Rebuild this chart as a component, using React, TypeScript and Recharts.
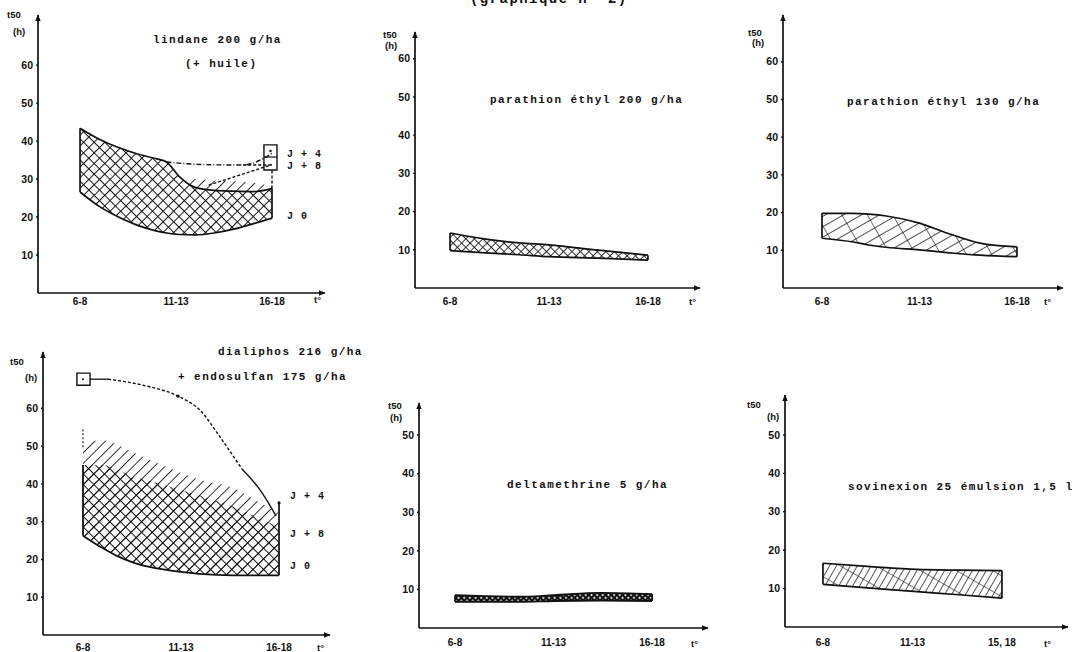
import React from 'react';
import {
  ComposedChart, Area, Line, XAxis, YAxis,
  ReferenceArea, ReferenceDot, ReferenceLine,
} from 'recharts';

// temperature classes (x) and t50 hours (y)
const tempTicks = [7, 12, 17];
const tempLabels = ['6-8', '11-13', '16-18'];
const tempLabelsSov = ['6-8', '11-13', '15, 18'];
const hourTicks60 = [10, 20, 30, 40, 50, 60];
const hourTicks50 = [10, 20, 30, 40, 50];

// lindane 200 g/ha (+ huile)
const lindaneJ0 = [
  { t: 7, v: [26.6, 43.4] }, { t: 8, v: [22.8, 40.5] }, { t: 9, v: [20, 38.3] },
  { t: 10, v: [17.8, 36.6] }, { t: 11, v: [16.3, 35.3] }, { t: 11.5, v: [15.8, 34.5] },
  { t: 12.2, v: [15.4, 30.5] }, { t: 13, v: [15.3, 27.8] }, { t: 14, v: [15.8, 27] },
  { t: 15, v: [16.8, 26.8] }, { t: 16, v: [18.2, 26.7] }, { t: 17, v: [19.7, 27.5] },
];
const lindaneJ8Band = [
  { t: 12.4, v: [29.2, 29.6] }, { t: 13, v: [27.8, 30] }, { t: 14, v: [27, 29.6] },
  { t: 15, v: [26.8, 29.4] }, { t: 16, v: [26.7, 29] }, { t: 17, v: [27.5, 28.2] },
];
const lindaneJ4 = [{ t: 11.5, h: 34.5 }, { t: 13.5, h: 33.8 }, { t: 15.5, h: 33.7 }, { t: 17, h: 36.8 }];
const lindaneJ8 = [{ t: 13.7, h: 28.4 }, { t: 17, h: 33.8 }];
const lindaneLink = [{ t: 15.5, h: 33.7 }, { t: 17, h: 33.7 }];
const lindaneDrop = [{ t: 17, h: 27.5 }, { t: 17, h: 32.4 }];

// parathion éthyl 200 g/ha
const parathion200 = [
  { t: 7, v: [9.8, 14.4] }, { t: 8.8, v: [9.2, 12.8] }, { t: 10.5, v: [8.7, 11.8] },
  { t: 12, v: [8.2, 11.3] }, { t: 14.5, v: [7.8, 9.9] }, { t: 17, v: [7.3, 8.6] },
];

// parathion éthyl 130 g/ha
const parathion130 = [
  { t: 7, v: [13.2, 19.8] }, { t: 8.6, v: [12.2, 19.8] }, { t: 9.4, v: [11.4, 19.6] },
  { t: 10.3, v: [10.8, 19.1] }, { t: 12, v: [10.1, 17.2] }, { t: 13.4, v: [9.4, 14.6] },
  { t: 15.1, v: [8.7, 11.9] }, { t: 17, v: [8.3, 10.9] },
];

// dialiphos 216 g/ha + endosulfan 175 g/ha
const dialiphosJ0 = [
  { t: 7, v: [26.3, 45] }, { t: 8, v: [23, 45] }, { t: 8.7, v: [21, 44] },
  { t: 9.5, v: [19.3, 42] }, { t: 10.4, v: [18, 40.8] }, { t: 12, v: [16.7, 38.4] },
  { t: 13.8, v: [15.9, 35.5] }, { t: 14.65, v: [15.8, 34] }, { t: 15.5, v: [15.8, 32] },
  { t: 17, v: [15.8, 28.6] },
];
const dialiphosJ4Band = [
  { t: 7, v: [26.3, 49.7] }, { t: 7.9, v: [23.5, 51.6] }, { t: 9.55, v: [19.2, 48.4] },
  { t: 11.3, v: [17.2, 44.4] }, { t: 13, v: [16.2, 41] }, { t: 14.65, v: [15.8, 39] },
  { t: 16.4, v: [15.8, 33.9] }, { t: 17, v: [15.8, 32.3] },
];
const dialiphosStart = [{ t: 7.36, h: 67.7 }, { t: 8.28, h: 67.7 }];
const dialiphosDashed = [
  { t: 8.28, h: 67.7 }, { t: 10.06, h: 66.1 }, { t: 11.85, h: 63.2 },
  { t: 12.97, h: 59.5 }, { t: 13.99, h: 52.4 }, { t: 15.1, h: 44 },
];
const dialiphosEnd = [{ t: 15.1, h: 44 }, { t: 16.03, h: 38.4 }, { t: 16.85, h: 31.5 }];
const dialiphosEdge = [{ t: 17, h: 15.8 }, { t: 17, h: 35 }];
const dialiphosTip = [{ t: 7, h: 49.7 }, { t: 7, h: 55 }];

// deltamethrine 5 g/ha
const deltamethrine = [
  { t: 7, v: [6.8, 8.5] }, { t: 10.3, v: [6.8, 8.1] }, { t: 12, v: [7, 8.5] },
  { t: 14.4, v: [7.1, 9.1] }, { t: 17, v: [7, 8.8] },
];

// sovinexion 25 émulsion 1,5 l
const sovinexion = [
  { t: 7, v: [11.1, 16.6] }, { t: 9.5, v: [10.2, 15.8] }, { t: 12.25, v: [9.2, 15] },
  { t: 14.6, v: [8.4, 14.8] }, { t: 17, v: [7.5, 14.7] },
];

const SANS = '"Liberation Sans", Arial, sans-serif';
const MONO = '"Liberation Mono", "DejaVu Sans Mono", monospace';
const INK = '#111';

type Frame = {
  x0: number; y0: number; yTop: number; xEnd: number;
  tMin: number; tMax: number; hMax: number; hTicks: number[];
  tLabels: string[]; gap: number;
};

const frames: Record<string, Frame> = {
  lindane: { x0: 38, y0: 293, yTop: 15, xEnd: 325, tMin: 4.81, tMax: 19.76, hMax: 73.2, hTicks: hourTicks60, tLabels: tempLabels, gap: 5 },
  para200: { x0: 415, y0: 288, yTop: 32, xEnd: 700, tMin: 5.23, tMax: 19.63, hMax: 67, hTicks: hourTicks60, tLabels: tempLabels, gap: 10 },
  para130: { x0: 783, y0: 288, yTop: 15, xEnd: 1063, tMin: 5.0, tMax: 19.36, hMax: 72.4, hTicks: hourTicks60, tLabels: tempLabels, gap: 10 },
  dialiphos: { x0: 43, y0: 635, yTop: 352, xEnd: 330, tMin: 4.96, tMax: 19.6, hMax: 74.9, hTicks: hourTicks60, tLabels: tempLabels, gap: 9 },
  delta: { x0: 419, y0: 628, yTop: 403, xEnd: 708, tMin: 5.17, tMax: 19.84, hMax: 58.3, hTicks: hourTicks50, tLabels: tempLabels, gap: 11 },
  sov: { x0: 785, y0: 627, yTop: 395, xEnd: 1068, tMin: 4.88, tMax: 20.69, hMax: 60.4, hTicks: hourTicks50, tLabels: tempLabelsSov, gap: 12 },
};

const YW = 34, MT = 6, MR = 10, XH = 26;

function Panel({ f, children }: { f: Frame; children?: React.ReactNode }) {
  const w = f.xEnd - f.x0 + YW + MR;
  const h = f.y0 - f.yTop + MT + XH;
  return (
    <div style={{ position: 'absolute', left: f.x0 - YW, top: f.yTop - MT }}>
      <ComposedChart width={w} height={h} margin={{ top: MT, right: MR, left: 0, bottom: 0 }}>
        <XAxis
          type="number" dataKey="t" domain={[f.tMin, f.tMax]} allowDataOverflow
          ticks={tempTicks} interval={0} height={XH}
          tickFormatter={(v: number) => f.tLabels[tempTicks.indexOf(v)] ?? ''}
          tick={{ fontSize: 10, fontWeight: 700, fill: INK, fontFamily: SANS }}
          tickLine={false} tickSize={0} tickMargin={f.gap}
          axisLine={{ stroke: INK, strokeWidth: 1.7, markerEnd: 'url(#arrowHead)' }}
        />
        <YAxis
          type="number" domain={[0, f.hMax]} allowDataOverflow ticks={f.hTicks} interval={0}
          width={YW}
          tick={{ fontSize: 10.5, fontWeight: 700, fill: INK, fontFamily: SANS }}
          tickLine={{ stroke: INK, strokeWidth: 1.4 }} tickSize={2} tickMargin={3}
          axisLine={{ stroke: INK, strokeWidth: 1.7, markerStart: 'url(#arrowHead)' }}
        />
        {children}
      </ComposedChart>
    </div>
  );
}

type Band = { t: number; v: number[] }[];

function bandArea(key: string, data: Band, pattern: string, stroke = true, width = 1.7) {
  return (
    <Area
      key={key} data={data} dataKey="v" type="monotone"
      fill={`url(#${pattern})`} fillOpacity={1}
      stroke={stroke ? INK : 'none'} strokeWidth={width}
      dot={false} activeDot={false} isAnimationActive={false}
    />
  );
}

function bandEdges(key: string, data: Band, width = 1.7) {
  const first = data[0];
  const last = data[data.length - 1];
  return [first, last].map((p, i) => (
    <ReferenceLine
      key={`${key}-${i}`}
      segment={[{ x: p.t, y: p.v[0] }, { x: p.t, y: p.v[1] }]}
      stroke={INK} strokeWidth={width}
    />
  ));
}

function path(key: string, data: { t: number; h: number }[], dash?: string, width = 1.4) {
  return (
    <Line
      key={key} data={data} dataKey="h" type="monotone" stroke={INK}
      strokeWidth={width} strokeDasharray={dash} dot={false} activeDot={false}
      isAnimationActive={false}
    />
  );
}

const jStyle = { fontSize: 10, fontWeight: 700, fill: INK, fontFamily: MONO, letterSpacing: 1 };

function jLabel(key: string, t: number, h: number, text: string, offset: number) {
  return (
    <ReferenceDot
      key={key} x={t} y={h} r={0} fill="none" stroke="none" ifOverflow="visible"
      label={{ value: text, position: 'right', offset, style: jStyle }}
    />
  );
}

function Txt({ x, y, children, mono = false, size }: { x: number; y: number; children: React.ReactNode; mono?: boolean; size?: number }) {
  return (
    <div style={{
      position: 'absolute', left: x, top: y, transform: 'translateY(-50%)',
      whiteSpace: 'nowrap', color: INK, lineHeight: 1,
      fontFamily: mono ? MONO : SANS, fontWeight: 700,
      fontSize: size ?? (mono ? 11 : 9.5), letterSpacing: mono ? 1.45 : 0,
    }}>{children}</div>
  );
}

function Patterns() {
  return (
    <svg width={0} height={0} style={{ position: 'absolute', left: 0, top: 0 }}>
      <defs>
        <marker id="arrowHead" viewBox="0 0 10 10" refX="9" refY="5" markerWidth="7" markerHeight="8"
          markerUnits="userSpaceOnUse" orient="auto-start-reverse">
          <path d="M0,1 L10,5 L0,9 z" fill={INK} />
        </marker>
        <pattern id="cross7" patternUnits="userSpaceOnUse" width={7.5} height={7.5} patternTransform="rotate(45)">
          <line x1={0} y1={0} x2={0} y2={7.5} stroke={INK} strokeWidth={2} />
          <line x1={0} y1={0} x2={7.5} y2={0} stroke={INK} strokeWidth={2} />
        </pattern>
        <pattern id="hatch7" patternUnits="userSpaceOnUse" width={7.5} height={7.5} patternTransform="rotate(45)">
          <line x1={0} y1={0} x2={0} y2={7.5} stroke={INK} strokeWidth={1.7} />
        </pattern>
        <pattern id="cross6" patternUnits="userSpaceOnUse" width={6} height={6} patternTransform="rotate(45)">
          <line x1={0} y1={0} x2={0} y2={6} stroke={INK} strokeWidth={1.7} />
          <line x1={0} y1={0} x2={6} y2={0} stroke={INK} strokeWidth={1.7} />
        </pattern>
        <pattern id="dense" patternUnits="userSpaceOnUse" width={4} height={4} patternTransform="rotate(45)">
          <rect x={0} y={0} width={4} height={4} fill={INK} />
          <circle cx={2} cy={2} r={1.1} fill="#fff" />
        </pattern>
        <pattern id="shallow" patternUnits="userSpaceOnUse" width={9} height={22} patternTransform="rotate(60)">
          <line x1={0} y1={0} x2={0} y2={22} stroke={INK} strokeWidth={1.5} />
          <line x1={0} y1={0} x2={9} y2={0} stroke={INK} strokeWidth={1.2} />
        </pattern>
        <pattern id="steep" patternUnits="userSpaceOnUse" width={6} height={18} patternTransform="rotate(30)">
          <line x1={0} y1={0} x2={0} y2={18} stroke={INK} strokeWidth={1.4} />
          <line x1={0} y1={0} x2={6} y2={0} stroke={INK} strokeWidth={1.1} />
        </pattern>
      </defs>
    </svg>
  );
}

export default function App() {
  const F = frames;
  return (
    <div style={{ position: 'absolute', left: 0, top: 0, width: 1079, height: 652, background: '#fff', overflow: 'hidden' }}>
      <Patterns />

      {/* caption cut off by the page top, as in the scan */}
      <Txt x={470} y={-1} mono size={14}>(graphique n° 2)</Txt>

      {/* lindane */}
      <Panel f={F.lindane}>
        {bandArea('l8', lindaneJ8Band, 'hatch7', false)}
        {bandArea('l0', lindaneJ0, 'cross7')}
        {bandEdges('l0e', lindaneJ0)}
        {path('lj4', lindaneJ4, '5 2 1 2')}
        {path('lj8', lindaneJ8, '3 2')}
        {path('llk', lindaneLink, '3 2')}
        {path('ldr', lindaneDrop, '3 2')}
        <ReferenceArea x1={16.58} x2={17.26} y1={32.4} y2={39} fill="none" stroke={INK} strokeWidth={1.4} ifOverflow="visible" />
        <ReferenceLine segment={[{ x: 16.58, y: 35.8 }, { x: 17.26, y: 35.8 }]} stroke={INK} strokeWidth={1.2} />
        <ReferenceDot x={16.92} y={37.4} r={1.2} fill={INK} stroke="none" />
        {jLabel('lja', 17, 36.8, 'J + 4', 15)}
        {jLabel('ljb', 17, 33.7, 'J + 8', 15)}
        {jLabel('ljc', 17, 20.3, 'J 0', 15)}
      </Panel>
      <Txt x={7} y={15}>t50</Txt>
      <Txt x={13} y={32}>(h)</Txt>
      <Txt x={314} y={300}>t°</Txt>
      <Txt x={153} y={40} mono>lindane 200 g/ha</Txt>
      <Txt x={185} y={64} mono>(+ huile)</Txt>

      {/* parathion 200 */}
      <Panel f={F.para200}>
        {bandArea('p2', parathion200, 'cross6')}
        {bandEdges('p2e', parathion200)}
      </Panel>
      <Txt x={383} y={35}>t50</Txt>
      <Txt x={385} y={46}>(h)</Txt>
      <Txt x={689} y={302}>t°</Txt>
      <Txt x={490} y={100} mono>parathion éthyl 200 g/ha</Txt>

      {/* parathion 130 */}
      <Panel f={F.para130}>
        {bandArea('p1', parathion130, 'shallow')}
        {bandEdges('p1e', parathion130)}
      </Panel>
      <Txt x={748} y={33}>t50</Txt>
      <Txt x={752} y={43}>(h)</Txt>
      <Txt x={1044} y={302}>t°</Txt>
      <Txt x={847} y={102} mono>parathion éthyl 130 g/ha</Txt>

      {/* dialiphos + endosulfan */}
      <Panel f={F.dialiphos}>
        {bandArea('d4', dialiphosJ4Band, 'hatch7', false)}
        {bandArea('d0', dialiphosJ0, 'cross7', false)}
        <Line data={dialiphosJ0.map((p) => ({ t: p.t, h: p.v[0] }))} dataKey="h" type="monotone"
          stroke={INK} strokeWidth={1.8} dot={false} activeDot={false} isAnimationActive={false} />
        <ReferenceLine segment={[{ x: 7, y: dialiphosJ0[0].v[0] }, { x: 7, y: dialiphosJ0[0].v[1] }]} stroke={INK} strokeWidth={1.8} />
        {path('dtp', dialiphosTip, '2 2', 1.1)}
        {path('ded', dialiphosEdge, undefined, 1.7)}
        <ReferenceDot x={17} y={35} r={1.6} fill={INK} stroke="none" />
        {path('dst', dialiphosStart, undefined, 1.3)}
        {path('dda', dialiphosDashed, '3 2', 1.4)}
        {path('den', dialiphosEnd, undefined, 1.4)}
        <ReferenceDot x={11.85} y={63.2} r={1.6} fill={INK} stroke="none" />
        <ReferenceArea x1={6.69} x2={7.36} y1={66.1} y2={69.3} fill="none" stroke={INK} strokeWidth={1.4} ifOverflow="visible" />
        <ReferenceDot x={7} y={67.7} r={1} fill={INK} stroke="none" />
        {jLabel('dja', 17, 37, 'J + 4', 11)}
        {jLabel('djb', 17, 27, 'J + 8', 11)}
        {jLabel('djc', 17, 18.5, 'J 0', 11)}
      </Panel>
      <Txt x={10} y={362}>t50</Txt>
      <Txt x={25} y={378}>(h)</Txt>
      <Txt x={317} y={648}>t°</Txt>
      <Txt x={218} y={352} mono>dialiphos 216 g/ha</Txt>
      <Txt x={178} y={377} mono>+ endosulfan 175 g/ha</Txt>

      {/* deltamethrine */}
      <Panel f={F.delta}>
        {bandArea('dl', deltamethrine, 'dense', true, 1.8)}
        {bandEdges('dle', deltamethrine, 1.8)}
      </Panel>
      <Txt x={388} y={406}>t50</Txt>
      <Txt x={390} y={418}>(h)</Txt>
      <Txt x={691} y={644}>t°</Txt>
      <Txt x={507} y={485} mono>deltamethrine 5 g/ha</Txt>

      {/* sovinexion */}
      <Panel f={F.sov}>
        {bandArea('sv', sovinexion, 'steep')}
        {bandEdges('sve', sovinexion)}
      </Panel>
      <Txt x={747} y={405}>t50</Txt>
      <Txt x={767} y={417}>(h)</Txt>
      <Txt x={1044} y={644}>t°</Txt>
      <Txt x={848} y={487} mono>sovinexion 25 émulsion 1,5 l</Txt>
    </div>
  );
}
